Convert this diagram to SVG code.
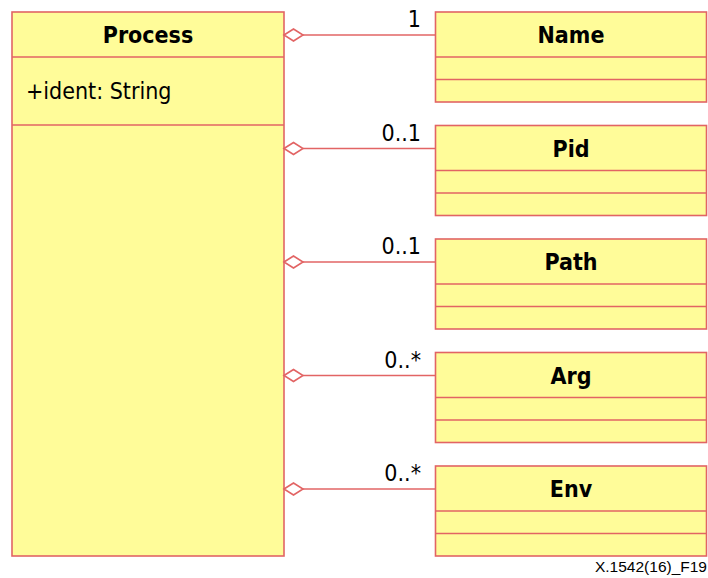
<svg xmlns="http://www.w3.org/2000/svg" width="708" height="578" viewBox="0 0 708 578">
<style>
.box{fill:#FFFC99;stroke:#E26464;stroke-width:1.6}
.div{stroke:#E26464;stroke-width:1.6;fill:none}
.ln{stroke:#E26464;stroke-width:1.6;fill:none}
.dia{fill:#FFFFFF;stroke:#E26464;stroke-width:1.6}
.t{font-family:"DejaVu Sans Condensed","DejaVu Sans",sans-serif;font-size:23px;fill:#000}
.b{font-weight:bold}
.m{text-anchor:end}
.c{text-anchor:middle}
.cap{font-family:"Liberation Sans",Arial,sans-serif;font-size:15.5px;fill:#000;text-anchor:end}
</style>
<rect width="708" height="578" fill="#FFFFFF"/>
<g id="Process">
<rect class="box" x="12" y="12" width="272" height="544"/>
<line class="div" x1="12" y1="57" x2="284" y2="57"/>
<line class="div" x1="12" y1="125" x2="284" y2="125"/>
<text class="t b c" x="148" y="43">Process</text>
<text class="t" x="26" y="99">+ident: String</text>
</g>
<g id="connectors">
<line class="ln" x1="303" y1="35" x2="435.5" y2="35"/>
<polygon class="dia" points="284,35 293.5,29 303,35 293.5,41"/>
<text class="t m" x="421" y="27">1</text>
<line class="ln" x1="303" y1="148.5" x2="435.5" y2="148.5"/>
<polygon class="dia" points="284,148.5 293.5,142.5 303,148.5 293.5,154.5"/>
<text class="t m" x="421" y="140.5">0..1</text>
<line class="ln" x1="303" y1="262" x2="435.5" y2="262"/>
<polygon class="dia" points="284,262 293.5,256 303,262 293.5,268"/>
<text class="t m" x="421" y="254">0..1</text>
<line class="ln" x1="303" y1="375.5" x2="435.5" y2="375.5"/>
<polygon class="dia" points="284,375.5 293.5,369.5 303,375.5 293.5,381.5"/>
<text class="t m" x="421" y="367.5">0..*</text>
<line class="ln" x1="303" y1="489" x2="435.5" y2="489"/>
<polygon class="dia" points="284,489 293.5,483 303,489 293.5,495"/>
<text class="t m" x="421" y="481">0..*</text>
</g>
<g id="Name">
<rect class="box" x="435.5" y="12" width="271" height="90"/>
<line class="div" x1="435.5" y1="57" x2="706.5" y2="57"/>
<line class="div" x1="435.5" y1="79.5" x2="706.5" y2="79.5"/>
<text class="t b c" x="571" y="43">Name</text>
</g>
<g id="Pid">
<rect class="box" x="435.5" y="125.5" width="271" height="90"/>
<line class="div" x1="435.5" y1="170.5" x2="706.5" y2="170.5"/>
<line class="div" x1="435.5" y1="193" x2="706.5" y2="193"/>
<text class="t b c" x="571" y="156.5">Pid</text>
</g>
<g id="Path">
<rect class="box" x="435.5" y="239" width="271" height="90"/>
<line class="div" x1="435.5" y1="284" x2="706.5" y2="284"/>
<line class="div" x1="435.5" y1="306.5" x2="706.5" y2="306.5"/>
<text class="t b c" x="571" y="270">Path</text>
</g>
<g id="Arg">
<rect class="box" x="435.5" y="352.5" width="271" height="90"/>
<line class="div" x1="435.5" y1="397.5" x2="706.5" y2="397.5"/>
<line class="div" x1="435.5" y1="420" x2="706.5" y2="420"/>
<text class="t b c" x="571" y="383.5">Arg</text>
</g>
<g id="Env">
<rect class="box" x="435.5" y="466" width="271" height="90"/>
<line class="div" x1="435.5" y1="511" x2="706.5" y2="511"/>
<line class="div" x1="435.5" y1="533.5" x2="706.5" y2="533.5"/>
<text class="t b c" x="571" y="497">Env</text>
</g>
<text class="cap" x="707" y="572">X.1542(16)_F19</text>
</svg>
